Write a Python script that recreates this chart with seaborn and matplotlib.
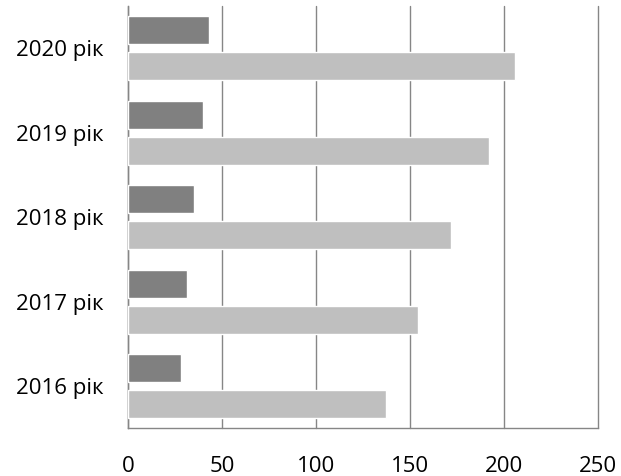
import pandas as pd
import matplotlib.pyplot as plt
import seaborn as sns

# Дані з діаграми (знизу вгору: 2016 -> 2020)
years = ["2016 рік", "2017 рік", "2018 рік", "2019 рік", "2020 рік"]
series_1 = [28, 31, 35, 40, 43]
series_2 = [137, 154.5, 172, 192, 206]
x_ticks = [0, 50, 100, 150, 200, 250]

df = pd.DataFrame({
    "year": years * 2,
    "value": series_1 + series_2,
    "series": ["Ряд 1"] * len(years) + ["Ряд 2"] * len(years),
})

sns.set_style("white")
plt.rcParams['font.family'] = ['Open Sans', 'DejaVu Sans']
plt.rcParams['text.color'] = 'black'
plt.rcParams['xtick.color'] = 'black'
plt.rcParams['ytick.color'] = 'black'

fig = plt.figure(figsize=(6.21, 4.76), dpi=100)
ax = fig.add_axes([128.3 / 621, 47.7 / 476, 469.4 / 621, 422.3 / 476])

sns.barplot(data=df, x="value", y="year", hue="series", orient="h",
            order=years[::-1], hue_order=["Ряд 1", "Ряд 2"],
            palette=["#808080", "#bfbfbf"], width=0.852, gap=0.22,
            legend=False, ax=ax, zorder=3)

ax.set_xlim(0, 250)
ax.set_xticks(x_ticks)
ax.set_xlabel("")
ax.set_ylabel("")
ax.grid(axis="x", color="#868686", linewidth=1.0, zorder=0)
ax.grid(axis="y", visible=False)
for line in ax.get_xgridlines():
    line.set_clip_on(False)
for side in ["top", "right"]:
    ax.spines[side].set_visible(False)
for side in ["left", "bottom"]:
    ax.spines[side].set_color("#868686")
    ax.spines[side].set_linewidth(1.0)
ax.tick_params(axis="x", length=0, pad=20, labelsize=16, labelcolor="black")
ax.tick_params(axis="y", length=0, pad=18, labelsize=16, labelcolor="black")

plt.savefig("out.png", dpi=100)
